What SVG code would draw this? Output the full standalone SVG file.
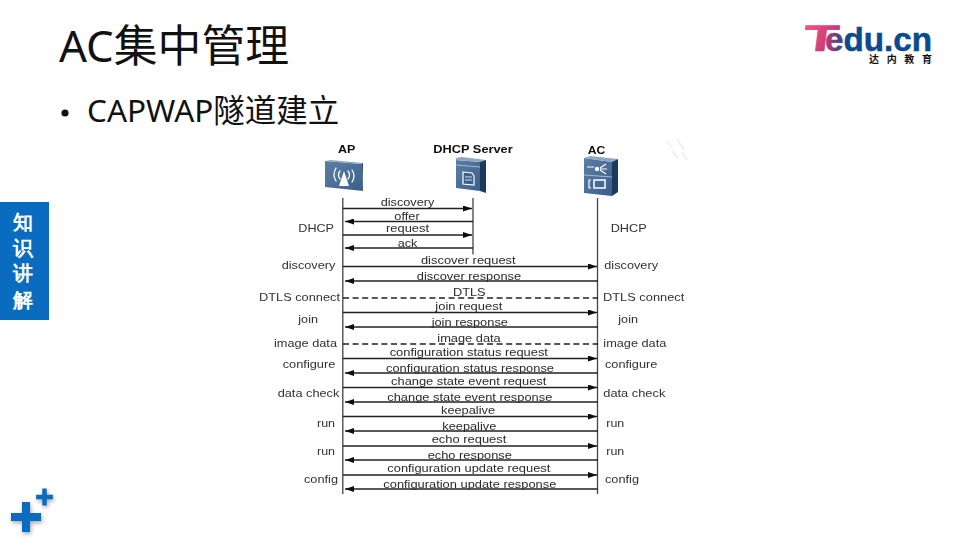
<svg xmlns="http://www.w3.org/2000/svg" width="960" height="540" viewBox="0 0 960 540">
<style>
text{font-family:"Liberation Sans",Arial,sans-serif}
.cjk{font-family:"Noto Sans","Noto Sans CJK SC",sans-serif}
.cjk2{font-family:"Noto Sans CJK SC","Noto Sans",sans-serif}
.t{font-size:11.5px;fill:#2b2b2b;text-anchor:middle}
.s{font-size:11.5px;fill:#333;text-anchor:start}
.h{font-size:11.5px;font-weight:bold;fill:#111;text-anchor:middle}
.l{stroke:#222;stroke-width:1.3;fill:none}
.d{stroke:#222;stroke-width:1.3;stroke-dasharray:6 3.6;fill:none}
.v{stroke:#444;stroke-width:1.3;fill:none}
.g{fill:none;stroke:#fff;stroke-linecap:round}
</style>
<defs>
<marker id="a" markerUnits="userSpaceOnUse" markerWidth="10" markerHeight="6" refX="9" refY="3" orient="auto-start-reverse"><path d="M0 0L9 3L0 6Z" fill="#111"/></marker>
<linearGradient id="f" x1="0" x2="1" y1="0" y2="1"><stop offset="0" stop-color="#5b7ea6"/><stop offset="1" stop-color="#3c5f8a"/></linearGradient>
<linearGradient id="tg" gradientUnits="userSpaceOnUse" x1="805" x2="840" y1="30" y2="45"><stop offset="0" stop-color="#f0507a"/><stop offset="1" stop-color="#b0357c"/></linearGradient>
<linearGradient id="eg" gradientUnits="userSpaceOnUse" x1="826" x2="846" y1="40" y2="40"><stop offset="0" stop-color="#c23a72"/><stop offset="1" stop-color="#0d4a8c"/></linearGradient>
<filter id="b" x="-5%" y="-5%" width="110%" height="110%"><feGaussianBlur stdDeviation="0.35"/></filter>
<filter id="sh" x="-30%" y="-30%" width="170%" height="170%"><feGaussianBlur stdDeviation="2"/></filter>
<path id="plus" d="M-4-15H4V-4H15V4H4V15H-4V4H-15V-4H-4Z"/>
</defs>
<rect width="960" height="540" fill="#fff"/>
<text id="title" x="59" y="62" class="cjk" font-size="43.800" fill="#111">AC集中管理</text>
<circle cx="65" cy="113" r="3.6" fill="#111"/>
<text id="bullet" x="87" y="122" class="cjk" font-size="31.500" fill="#111">CAPWAP隧道建立</text>

<g id="logo">
<text x="802" y="51" transform="translate(6.500 0) skewX(-7)" transform-origin="0 0" font-size="37" font-weight="bold" fill="url(#tg)" stroke="url(#tg)" stroke-width=".6" textLength="35" lengthAdjust="spacingAndGlyphs">T</text>
<text x="825" y="51" font-size="34" font-weight="bold" fill="url(#eg)" stroke="url(#eg)" stroke-width=".5" textLength="107" lengthAdjust="spacingAndGlyphs">edu.cn</text>
<text x="869" y="63" class="cjk2" font-size="10" font-weight="bold" fill="#111" textLength="63">达内教育</text>
</g>

<g id="side-tab">
<rect x="0" y="202" width="49" height="118" fill="#0a6cbe"/>
<g class="cjk2" font-size="20" font-weight="bold" fill="#fff" text-anchor="middle">
<text x="23" y="229">知</text><text x="23" y="255">识</text><text x="23" y="280">讲</text><text x="23" y="306.500">解</text>
</g>
</g>

<g id="plus-icon">
<g fill="#000" opacity=".35" filter="url(#sh)"><use href="#plus" x="27" y="519"/><use href="#plus" transform="translate(45.500 499) scale(.56)"/></g>
<g fill="#0a6cbe"><use href="#plus" x="26" y="517"/><use href="#plus" transform="translate(44.500 497) scale(.56)"/></g>
</g>

<g filter="url(#b)">
<g id="node-ap">
<text x="346.700" y="153" class="h" textLength="17.300" lengthAdjust="spacingAndGlyphs">AP</text>
<path d="M325 161L362 164L363 191L325 187Z" fill="url(#f)"/>
<path d="M325 161L331 160L363 163V164L362 164Z" fill="#8ea6c0"/>
<path d="M362 164L363 163L363 189V191Z" fill="#1f3a5c"/>
<path d="M344 171L339 186H349Z" fill="#fff"/>
<g class="g" stroke-width="1.300"><path d="M340 171Q337 175 340 179"/><path d="M336 168Q332 175 336 181"/><path d="M348 171Q351 175 348 179"/><path d="M352 170Q356 176 352 182"/></g>
</g>
<g id="node-dhcp">
<text x="473" y="153" class="h" textLength="79.400" lengthAdjust="spacingAndGlyphs">DHCP Server</text>
<path d="M456 160L480 162V191L456 188Z" fill="url(#f)"/>
<path d="M456 158L462 157L486 160L480 162L456 160Z" fill="#8ea6c0"/>
<path d="M480 162L486 160V193L480 191Z" fill="#1f3a5c"/>
<path d="M456 165L480 167" stroke="#a7bbd0" stroke-width="1"/>
<path d="M463 172L472 173L474 176V185L463 184Z" fill="#3c5f8a" stroke="#fff" stroke-width="1.200"/>
<path d="M465 177H472M465 180H472" stroke="#fff" stroke-width=".8"/>
</g>
<g id="node-ac">
<text x="596.500" y="154" class="h" textLength="17.600" lengthAdjust="spacingAndGlyphs">AC</text>
<path d="M584 158L612 162V196L584 193Z" fill="url(#f)"/>
<path d="M584 158L590 156L618 159L612 162Z" fill="#8ea6c0"/>
<path d="M612 162L618 159V192L612 196Z" fill="#1f3a5c"/>
<path d="M584 175L612 177" stroke="#a7bbd0" stroke-width="1"/>
<path d="M587 167H594M600 168L606 164M600 169H607M600 170L606 174" stroke="#fff" stroke-width="1.200" fill="none"/>
<circle cx="597" cy="169" r="2.200" fill="#fff"/>
<rect x="594" y="180" width="11" height="8" fill="none" stroke="#fff" stroke-width="1.500"/>
<path d="M591 180H589V188H591" fill="none" stroke="#fff" stroke-width="1.200"/>
</g>
<g id="mark" fill="none" stroke="#ececec" stroke-width="1.500">
<path d="M666 141L672 147M677 139L684 150M672 151L678 158M682 152L687 160"/>
</g>

<g id="connectors">
<path class="v" d="M342.800 198V494M473 198V254.500M597.500 198V494"/>
<g marker-end="url(#a)">
<path class="l" d="M343 208.500H472"/><path class="l" d="M473 221.500H345"/><path class="l" d="M343 235H472"/><path class="l" d="M473 248H345"/>
<path class="l" d="M343 266.500H597"/><path class="l" d="M598 281H345"/>
<path class="l" d="M343 312.500H597"/><path class="l" d="M598 327H345"/>
<path class="l" d="M343 358.500H597"/><path class="l" d="M598 373H345"/>
<path class="l" d="M343 387.500H597"/><path class="l" d="M598 402H345"/>
<path class="l" d="M343 416.500H597"/><path class="l" d="M598 431H345"/>
<path class="l" d="M343 446H597"/><path class="l" d="M598 460H345"/>
<path class="l" d="M343 475H597"/><path class="l" d="M598 489H345"/>
</g>
<path class="d" d="M343 298H598M343 344H598"/>
</g>

<g id="labels">
<text class="t" x="407.500" y="205.500" textLength="53.700" lengthAdjust="spacingAndGlyphs">discovery</text>
<text class="t" x="407" y="220" textLength="25.300" lengthAdjust="spacingAndGlyphs">offer</text>
<text class="t" x="407.500" y="232" textLength="43" lengthAdjust="spacingAndGlyphs">request</text>
<text class="t" x="407.500" y="246.700" textLength="19.700" lengthAdjust="spacingAndGlyphs">ack</text>
<text class="t" x="468.300" y="264" textLength="94.700" lengthAdjust="spacingAndGlyphs">discover request</text>
<text class="t" x="469" y="280" textLength="104.300" lengthAdjust="spacingAndGlyphs">discover response</text>
<text class="t" x="469.300" y="296" textLength="32.700" lengthAdjust="spacingAndGlyphs">DTLS</text>
<text class="t" x="468.800" y="310" textLength="67" lengthAdjust="spacingAndGlyphs">join request</text>
<text class="t" x="469.800" y="326" textLength="76.300" lengthAdjust="spacingAndGlyphs">join response</text>
<text class="t" x="469" y="342" textLength="63.400" lengthAdjust="spacingAndGlyphs">image data</text>
<text class="t" x="468.800" y="356" textLength="158.300" lengthAdjust="spacingAndGlyphs">configuration status request</text>
<text class="t" x="470" y="371.700" textLength="168" lengthAdjust="spacingAndGlyphs">configuration status response</text>
<text class="t" x="468.700" y="385" textLength="155.300" lengthAdjust="spacingAndGlyphs">change state event request</text>
<text class="t" x="469.800" y="400.500" textLength="165" lengthAdjust="spacingAndGlyphs">change state event response</text>
<text class="t" x="468" y="414" textLength="54" lengthAdjust="spacingAndGlyphs">keepalive</text>
<text class="t" x="469.300" y="429.500" textLength="54" lengthAdjust="spacingAndGlyphs">keepalive</text>
<text class="t" x="469" y="443" textLength="74.700" lengthAdjust="spacingAndGlyphs">echo request</text>
<text class="t" x="469.800" y="458.500" textLength="84.300" lengthAdjust="spacingAndGlyphs">echo response</text>
<text class="t" x="468.800" y="472" textLength="163" lengthAdjust="spacingAndGlyphs">configuration update request</text>
<text class="t" x="469.800" y="487.500" textLength="173" lengthAdjust="spacingAndGlyphs">configuration update response</text>

<text class="s" x="298.300" y="232" textLength="35.700" lengthAdjust="spacingAndGlyphs">DHCP</text><text class="s" x="610.700" y="232" textLength="36" lengthAdjust="spacingAndGlyphs">DHCP</text>
<text class="s" x="281.700" y="268.700" textLength="53.700" lengthAdjust="spacingAndGlyphs">discovery</text><text class="s" x="604.300" y="268.700" textLength="53.700" lengthAdjust="spacingAndGlyphs">discovery</text>
<text class="s" x="259" y="301" textLength="81" lengthAdjust="spacingAndGlyphs">DTLS connect</text><text class="s" x="603" y="301" textLength="81.300" lengthAdjust="spacingAndGlyphs">DTLS connect</text>
<text class="s" x="298.300" y="322.700" textLength="19.700" lengthAdjust="spacingAndGlyphs">join</text><text class="s" x="618.300" y="322.700" textLength="19.700" lengthAdjust="spacingAndGlyphs">join</text>
<text class="s" x="274" y="347" textLength="63" lengthAdjust="spacingAndGlyphs">image data</text><text class="s" x="603.300" y="347" textLength="63" lengthAdjust="spacingAndGlyphs">image data</text>
<text class="s" x="282.700" y="368" textLength="52.700" lengthAdjust="spacingAndGlyphs">configure</text><text class="s" x="605" y="368" textLength="52.300" lengthAdjust="spacingAndGlyphs">configure</text>
<text class="s" x="277.700" y="397" textLength="61.700" lengthAdjust="spacingAndGlyphs">data check</text><text class="s" x="603.300" y="397" textLength="62" lengthAdjust="spacingAndGlyphs">data check</text>
<text class="s" x="317" y="427" textLength="18" lengthAdjust="spacingAndGlyphs">run</text><text class="s" x="606.300" y="427" textLength="18" lengthAdjust="spacingAndGlyphs">run</text>
<text class="s" x="317" y="455" textLength="18" lengthAdjust="spacingAndGlyphs">run</text><text class="s" x="606.300" y="455" textLength="18" lengthAdjust="spacingAndGlyphs">run</text>
<text class="s" x="304" y="483" textLength="34" lengthAdjust="spacingAndGlyphs">config</text><text class="s" x="605" y="483" textLength="34" lengthAdjust="spacingAndGlyphs">config</text>
</g>
</g>
</svg>
